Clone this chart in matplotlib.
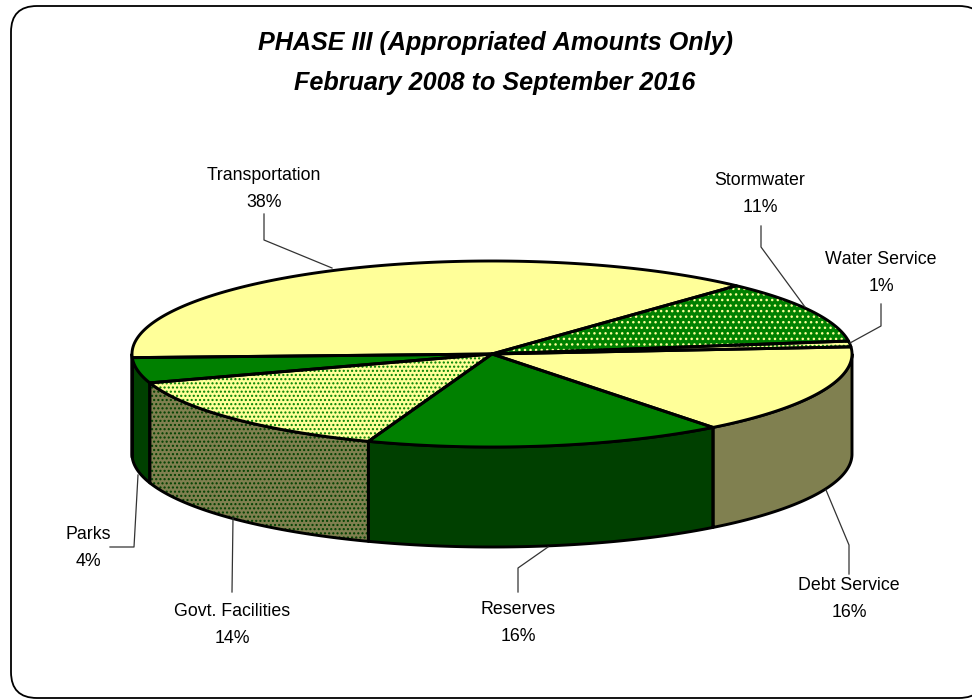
import numpy as np
import matplotlib
matplotlib.use("Agg")
import matplotlib.pyplot as plt
from matplotlib.patches import Polygon, FancyBboxPatch

plt.rcParams['font.family'] = ['Liberation Sans', 'DejaVu Sans']
plt.rcParams['text.kerning_factor'] = 6

# Slices, clockwise starting from the right hand side of the pie
categories = ['Debt Service', 'Reserves', 'Govt. Facilities', 'Parks',
              'Transportation', 'Stormwater', 'Water Service']
# shares, the printed labels are rounded
shares = [15.7, 16.1, 14.4, 4.4, 37.5, 10.9, 1.0]
labels = ['16%', '16%', '14%', '4%', '38%', '11%', '1%']

top_colors = ['#FFFF99', '#008000', '#FFFF99', '#008000', '#FFFF99', '#008000', '#FFFF99']
side_colors = ['#808050', '#004000', '#808050', '#004000', '#808050', '#004000', '#808050']
top_hatch_colors = [None, None, '#008000', None, None, '#FFFF99', '#008000']
top_hatches = [None, None, '....', None, None, '...', '....']
side_hatch_colors = [None, None, '#004000', None, None, '#004000', '#004000']
side_hatches = [None, None, '....', None, None, None, None]

label_pos = [(849, 599), (518, 623), (232, 625), (88, 548), (264, 189), (760, 194), (881, 273)]

# Leader lines from the labels to the pie, x and y in pixels
leaders = [
    [(849, 574), (849, 545), (826, 490)],
    [(518, 592), (518, 568), (548, 547)],
    [(232, 592), (233, 518)],
    [(110, 547), (134, 547), (138, 475)],
    [(264, 214), (264, 240), (332, 268)],
    [(761, 226), (761, 247), (805, 307)],
    [(881, 304), (881, 326), (850, 343)],
]

title_lines = ['PHASE III (Appropriated Amounts Only)', 'February 2008 to September 2016']

# Pie geometry in pixels
cx, cy = 492, 354
rx, ry = 360, 93
depth = 100
start_angle = 4.4


def arc(a0, a1):
    t = np.radians(np.linspace(a0, a1, 200))
    return cx + rx * np.cos(t), cy - ry * np.sin(t)


fig = plt.figure(figsize=(9.72, 6.99), dpi=100)
ax = fig.add_axes([0, 0, 1, 1])
ax.set_xlim(0, 972)
ax.set_ylim(699, 0)
ax.axis('off')

# Rounded frame, the right side runs past the edge of the picture
frame = FancyBboxPatch((11, 6), 974, 692, boxstyle='round,pad=0,rounding_size=26',
                       fc='white', ec='black', lw=1.3)
ax.add_patch(frame)

# Work out the angle span of each slice
spans = []
a = start_angle
for s in shares:
    spans.append((a, a - s * 3.6))
    a -= s * 3.6

# Sides first, only the front half of the pie shows
for i, (a0, a1) in enumerate(spans):
    hi, lo = min(a0, 0), max(a1, -180)
    if hi <= lo:
        continue
    x, y = arc(hi, lo)
    pts = np.r_[np.c_[x, y], np.c_[x[::-1], y[::-1] + depth]]
    if side_hatches[i]:
        ax.add_patch(Polygon(pts, fc=side_colors[i], ec=side_hatch_colors[i], lw=0,
                             hatch=side_hatches[i], zorder=2))
    else:
        ax.add_patch(Polygon(pts, fc=side_colors[i], ec='none', zorder=2))
    ax.add_patch(Polygon(pts, fc='none', ec='black', lw=2.1, zorder=3, joinstyle='round'))

# Top of the pie
for i, (a0, a1) in enumerate(spans):
    x, y = arc(a0, a1)
    pts = np.r_[[[cx, cy]], np.c_[x, y]]
    if top_hatches[i]:
        ax.add_patch(Polygon(pts, fc=top_colors[i], ec=top_hatch_colors[i], lw=0,
                             hatch=top_hatches[i], zorder=4))
    else:
        ax.add_patch(Polygon(pts, fc=top_colors[i], ec='none', zorder=4))
    ax.add_patch(Polygon(pts, fc='none', ec='black', lw=2.1, zorder=5, joinstyle='round'))

for line in leaders:
    xs, ys = zip(*line)
    ax.plot(xs, ys, color='#333333', lw=0.9, zorder=6)

for name, lab, (x, y) in zip(categories, labels, label_pos):
    ax.text(x, y, f'{name}\n{lab}', ha='center', va='center', fontsize=12.8,
            linespacing=1.75, color='black', zorder=7)

ax.text(495, 43, title_lines[0], ha='center', va='center', fontsize=18.1,
        fontweight='bold', style='italic')
ax.text(495, 83, title_lines[1], ha='center', va='center', fontsize=18.1,
        fontweight='bold', style='italic')

fig.savefig('out.png', dpi=100)
